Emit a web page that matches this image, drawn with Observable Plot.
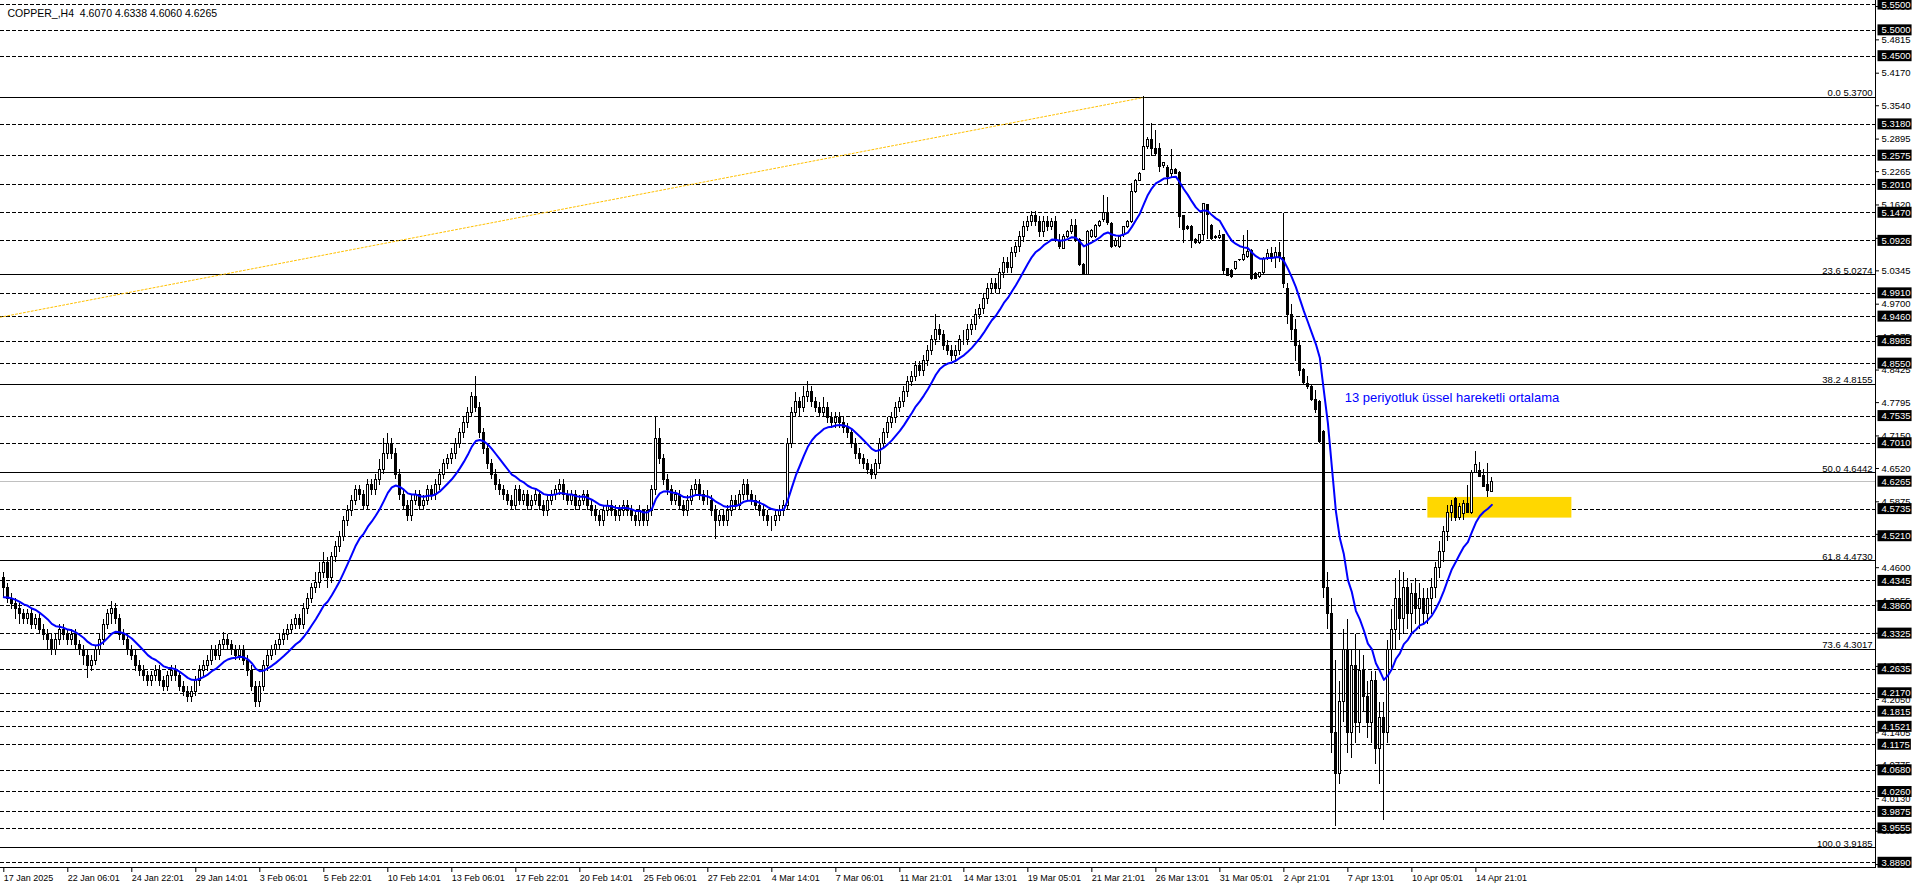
<!DOCTYPE html>
<html><head><meta charset="utf-8">
<script src="https://cdn.jsdelivr.net/npm/d3@7"></script>
<script src="https://cdn.jsdelivr.net/npm/@observablehq/plot@0.6"></script>
<style>
html,body{margin:0;padding:0;background:#fff;overflow:hidden;}
#chart svg{display:block;}
</style></head>
<body><div id="chart"></div>
<script>
// ---------- DATA (COPPER_, H4) ----------
const open = [
4.44,4.42,4.40,4.39,4.38,4.37,4.36,4.37,4.35,4.36,4.34,4.33,4.32,4.30,4.32,4.34,
4.33,4.32,4.33,4.31,4.30,4.29,4.27,4.28,4.30,4.32,4.35,4.37,4.38,4.36,4.33,4.32,
4.30,4.29,4.27,4.26,4.25,4.24,4.25,4.26,4.24,4.23,4.25,4.26,4.25,4.23,4.22,4.21,
4.22,4.24,4.26,4.27,4.28,4.30,4.29,4.31,4.32,4.31,4.30,4.29,4.30,4.28,4.26,4.23,
4.20,4.23,4.27,4.29,4.30,4.31,4.32,4.33,4.34,4.35,4.36,4.35,4.38,4.40,4.42,4.43,
4.45,4.47,4.44,4.48,4.50,4.52,4.55,4.57,4.59,4.61,4.60,4.58,4.62,4.61,4.63,4.65,
4.68,4.70,4.68,4.64,4.60,4.58,4.56,4.59,4.60,4.58,4.59,4.61,4.60,4.62,4.64,4.66,
4.67,4.68,4.70,4.72,4.74,4.76,4.79,4.77,4.72,4.69,4.66,4.64,4.62,4.61,4.60,4.59,
4.58,4.61,4.59,4.60,4.58,4.59,4.60,4.58,4.57,4.59,4.60,4.61,4.62,4.60,4.59,4.60,
4.58,4.59,4.60,4.58,4.57,4.56,4.55,4.57,4.58,4.57,4.56,4.57,4.58,4.57,4.56,4.55,
4.57,4.55,4.57,4.61,4.71,4.67,4.63,4.61,4.59,4.60,4.58,4.57,4.59,4.61,4.62,4.60,
4.59,4.59,4.57,4.55,4.56,4.55,4.57,4.59,4.58,4.60,4.62,4.60,4.59,4.58,4.57,4.56,
4.55,4.55,4.56,4.57,4.58,4.70,4.76,4.78,4.77,4.79,4.80,4.78,4.77,4.76,4.77,4.75,
4.74,4.75,4.74,4.73,4.72,4.70,4.68,4.67,4.66,4.65,4.64,4.66,4.70,4.72,4.74,4.75,
4.77,4.78,4.80,4.82,4.83,4.85,4.84,4.86,4.88,4.90,4.92,4.91,4.89,4.88,4.87,4.88,
4.90,4.90,4.92,4.93,4.95,4.96,4.98,5.00,5.01,5.00,5.03,5.05,5.04,5.07,5.08,5.10,
5.12,5.13,5.14,5.13,5.11,5.13,5.119,5.129,5.093,5.077,5.100,5.109,5.122,5.095,5.045,5.027,
5.100,5.100,5.122,5.132,5.146,5.125,5.083,5.080,5.103,5.119,5.129,5.187,5.209,5.230,5.274,5.287,
5.271,5.271,5.238,5.234,5.221,5.230,5.224,5.140,5.119,5.120,5.095,5.088,5.103,5.161,5.122,5.100,
5.098,5.103,5.038,5.035,5.038,5.055,5.055,5.061,5.073,5.029,5.022,5.030,5.058,5.067,5.06,5.07,
5.06,5.00,4.95,4.92,4.89,4.842,4.815,4.809,4.784,4.780,4.722,4.42,4.37,4.14,4.06,4.20,
4.30,4.14,4.27,4.16,4.26,4.21,4.16,4.24,4.11,4.17,4.14,4.30,4.34,4.40,4.36,4.42,
4.37,4.41,4.38,4.40,4.37,4.40,4.42,4.46,4.49,4.53,4.565,4.592,4.557,4.563,4.584,4.565,
4.644,4.648,4.637,4.620,4.607
];
const high = [
4.45,4.43,4.41,4.40,4.39,4.38,4.38,4.38,4.37,4.37,4.35,4.34,4.33,4.33,4.35,4.35,
4.34,4.34,4.34,4.32,4.31,4.30,4.29,4.31,4.33,4.36,4.38,4.395,4.39,4.37,4.34,4.33,
4.31,4.30,4.28,4.27,4.26,4.26,4.27,4.27,4.25,4.26,4.27,4.27,4.26,4.24,4.23,4.23,
4.25,4.27,4.28,4.29,4.31,4.31,4.32,4.335,4.33,4.32,4.31,4.31,4.31,4.29,4.27,4.24,
4.24,4.28,4.30,4.31,4.32,4.33,4.34,4.35,4.36,4.37,4.37,4.39,4.41,4.43,4.45,4.47,
4.49,4.48,4.49,4.51,4.53,4.56,4.58,4.60,4.62,4.62,4.61,4.63,4.63,4.64,4.67,4.71,
4.72,4.71,4.69,4.65,4.61,4.59,4.60,4.61,4.61,4.60,4.62,4.62,4.63,4.65,4.67,4.68,
4.69,4.71,4.73,4.75,4.77,4.80,4.83,4.78,4.73,4.70,4.67,4.65,4.63,4.62,4.61,4.60,
4.62,4.62,4.61,4.61,4.60,4.61,4.61,4.59,4.60,4.61,4.62,4.63,4.63,4.61,4.61,4.61,
4.60,4.61,4.61,4.59,4.58,4.57,4.58,4.59,4.59,4.58,4.58,4.59,4.59,4.58,4.57,4.58,
4.57,4.58,4.62,4.75,4.73,4.68,4.64,4.62,4.61,4.61,4.59,4.60,4.62,4.63,4.63,4.61,
4.61,4.60,4.58,4.57,4.57,4.58,4.60,4.60,4.61,4.63,4.63,4.61,4.60,4.59,4.58,4.57,
4.56,4.57,4.58,4.59,4.71,4.77,4.80,4.79,4.81,4.82,4.81,4.79,4.78,4.79,4.78,4.76,
4.76,4.76,4.75,4.74,4.73,4.71,4.69,4.68,4.67,4.66,4.67,4.71,4.73,4.75,4.76,4.78,
4.79,4.81,4.83,4.84,4.86,4.86,4.87,4.89,4.91,4.95,4.93,4.92,4.90,4.89,4.89,4.91,
4.92,4.93,4.94,4.96,4.97,4.99,5.01,5.02,5.02,5.04,5.06,5.06,5.08,5.09,5.11,5.13,
5.14,5.15,5.15,5.14,5.14,5.14,5.135,5.14,5.105,5.105,5.112,5.133,5.133,5.097,5.048,5.112,
5.115,5.125,5.132,5.180,5.177,5.128,5.097,5.103,5.121,5.131,5.203,5.211,5.224,5.372,5.293,5.319,
5.307,5.280,5.245,5.238,5.269,5.233,5.226,5.142,5.122,5.122,5.097,5.105,5.164,5.163,5.124,5.102,
5.112,5.105,5.040,5.037,5.053,5.057,5.103,5.113,5.075,5.031,5.032,5.060,5.075,5.08,5.08,5.09,
5.145,5.01,4.97,4.94,4.90,4.845,4.83,4.812,4.803,4.784,4.725,4.45,4.40,4.28,4.24,4.34,
4.36,4.30,4.33,4.30,4.29,4.24,4.26,4.26,4.20,4.20,4.32,4.38,4.44,4.455,4.45,4.44,
4.43,4.44,4.43,4.42,4.42,4.44,4.47,4.51,4.54,4.58,4.59,4.595,4.585,4.59,4.62,4.648,
4.685,4.663,4.650,4.662,4.6338
];
const low = [
4.40,4.39,4.38,4.36,4.35,4.35,4.35,4.34,4.34,4.33,4.32,4.30,4.29,4.29,4.31,4.32,
4.31,4.31,4.30,4.29,4.27,4.245,4.26,4.27,4.29,4.31,4.34,4.35,4.35,4.32,4.31,4.29,
4.28,4.26,4.25,4.24,4.23,4.23,4.24,4.23,4.22,4.22,4.24,4.24,4.22,4.21,4.20,4.20,
4.21,4.23,4.25,4.26,4.27,4.28,4.28,4.30,4.30,4.29,4.28,4.28,4.27,4.25,4.22,4.19,
4.19,4.22,4.26,4.28,4.29,4.30,4.31,4.32,4.33,4.34,4.34,4.34,4.37,4.39,4.41,4.42,
4.44,4.42,4.43,4.47,4.49,4.51,4.54,4.56,4.58,4.59,4.57,4.57,4.60,4.60,4.62,4.64,
4.67,4.67,4.63,4.59,4.57,4.55,4.55,4.58,4.57,4.57,4.58,4.59,4.59,4.61,4.63,4.65,
4.66,4.67,4.69,4.71,4.73,4.75,4.76,4.71,4.68,4.65,4.63,4.61,4.60,4.59,4.58,4.57,
4.57,4.58,4.58,4.57,4.57,4.58,4.57,4.56,4.56,4.58,4.59,4.60,4.59,4.58,4.58,4.57,
4.57,4.58,4.57,4.56,4.55,4.54,4.54,4.56,4.56,4.55,4.55,4.56,4.56,4.55,4.54,4.54,
4.54,4.54,4.56,4.60,4.66,4.62,4.60,4.58,4.58,4.57,4.56,4.56,4.58,4.60,4.59,4.58,
4.58,4.56,4.515,4.54,4.54,4.54,4.56,4.57,4.57,4.59,4.59,4.58,4.57,4.56,4.55,4.54,
4.53,4.54,4.55,4.56,4.57,4.69,4.75,4.75,4.76,4.78,4.77,4.76,4.75,4.75,4.74,4.73,
4.73,4.73,4.72,4.71,4.69,4.67,4.66,4.65,4.64,4.63,4.63,4.65,4.69,4.71,4.73,4.74,
4.76,4.77,4.79,4.81,4.82,4.83,4.83,4.85,4.87,4.89,4.90,4.88,4.87,4.86,4.86,4.87,
4.89,4.89,4.91,4.92,4.94,4.95,4.97,4.99,4.99,4.99,5.02,5.03,5.03,5.06,5.07,5.09,
5.11,5.12,5.12,5.10,5.10,5.11,5.112,5.09,5.075,5.075,5.098,5.105,5.090,5.043,5.025,5.025,
5.098,5.098,5.118,5.128,5.123,5.077,5.080,5.078,5.100,5.117,5.127,5.185,5.207,5.228,5.270,5.256,
5.255,5.225,5.232,5.202,5.216,5.220,5.116,5.087,5.112,5.077,5.086,5.086,5.093,5.096,5.094,5.096,
5.095,5.027,5.023,5.020,5.036,5.053,5.053,5.059,5.016,5.017,5.020,5.028,5.055,5.05,5.04,5.05,
5.00,4.93,4.90,4.86,4.83,4.815,4.805,4.781,4.758,4.700,4.40,4.34,4.10,3.96,4.04,4.16,
4.10,4.09,4.12,4.14,4.18,4.13,4.12,4.08,4.04,3.97,4.12,4.26,4.30,4.32,4.33,4.34,
4.33,4.35,4.34,4.35,4.35,4.37,4.40,4.44,4.47,4.51,4.55,4.55,4.551,4.551,4.565,4.563,
4.642,4.634,4.615,4.596,4.606
];
const close = [
4.42,4.40,4.39,4.38,4.37,4.36,4.37,4.35,4.36,4.34,4.33,4.32,4.30,4.32,4.34,4.33,
4.32,4.33,4.31,4.30,4.29,4.27,4.28,4.30,4.32,4.35,4.37,4.38,4.36,4.33,4.32,4.30,
4.29,4.27,4.26,4.25,4.24,4.25,4.26,4.24,4.23,4.25,4.26,4.25,4.23,4.22,4.21,4.22,
4.24,4.26,4.27,4.28,4.30,4.29,4.31,4.32,4.31,4.30,4.29,4.30,4.28,4.26,4.23,4.20,
4.23,4.27,4.29,4.30,4.31,4.32,4.33,4.34,4.35,4.36,4.35,4.38,4.40,4.42,4.43,4.45,
4.47,4.44,4.48,4.50,4.52,4.55,4.57,4.59,4.61,4.60,4.58,4.62,4.61,4.63,4.65,4.68,
4.70,4.68,4.64,4.60,4.58,4.56,4.59,4.60,4.58,4.59,4.61,4.60,4.62,4.64,4.66,4.67,
4.68,4.70,4.72,4.74,4.76,4.79,4.77,4.72,4.69,4.66,4.64,4.62,4.61,4.60,4.59,4.58,
4.61,4.59,4.60,4.58,4.59,4.60,4.58,4.57,4.59,4.60,4.61,4.62,4.60,4.59,4.60,4.58,
4.59,4.60,4.58,4.57,4.56,4.55,4.57,4.58,4.57,4.56,4.57,4.58,4.57,4.56,4.55,4.57,
4.55,4.57,4.61,4.71,4.67,4.63,4.61,4.59,4.60,4.58,4.57,4.59,4.61,4.62,4.60,4.59,
4.59,4.57,4.55,4.56,4.55,4.57,4.59,4.58,4.60,4.62,4.60,4.59,4.58,4.57,4.56,4.55,
4.55,4.56,4.57,4.58,4.70,4.76,4.78,4.77,4.79,4.80,4.78,4.77,4.76,4.77,4.75,4.74,
4.75,4.74,4.73,4.72,4.70,4.68,4.67,4.66,4.65,4.64,4.66,4.70,4.72,4.74,4.75,4.77,
4.78,4.80,4.82,4.83,4.85,4.84,4.86,4.88,4.90,4.92,4.91,4.89,4.88,4.87,4.88,4.90,
4.90,4.92,4.93,4.95,4.96,4.98,5.00,5.01,5.00,5.03,5.05,5.04,5.07,5.08,5.10,5.12,
5.13,5.14,5.13,5.11,5.13,5.12,5.129,5.093,5.080,5.100,5.109,5.122,5.093,5.045,5.027,5.109,
5.111,5.122,5.129,5.146,5.127,5.080,5.093,5.100,5.119,5.129,5.187,5.209,5.222,5.275,5.288,5.271,
5.260,5.235,5.243,5.216,5.230,5.222,5.138,5.114,5.116,5.093,5.088,5.103,5.163,5.142,5.096,5.098,
5.102,5.035,5.025,5.022,5.051,5.056,5.066,5.071,5.019,5.019,5.030,5.058,5.067,5.06,5.07,5.06,
5.01,4.95,4.92,4.89,4.84,4.817,4.81,4.784,4.766,4.703,4.42,4.37,4.14,4.06,4.20,4.30,
4.14,4.27,4.16,4.26,4.21,4.16,4.24,4.11,4.17,4.14,4.30,4.34,4.40,4.36,4.42,4.37,
4.41,4.38,4.40,4.37,4.40,4.42,4.46,4.49,4.53,4.565,4.58,4.557,4.578,4.583,4.565,4.644,
4.659,4.636,4.617,4.609,4.6265
];

const timeTickBars = [0,16,32,48,64,80,96,112,128,144,160,176,192,208,224,240,256,272,288,304,320,336,352,368];
const timeLabels = ["17 Jan 2025","22 Jan 06:01","24 Jan 22:01","29 Jan 14:01","3 Feb 06:01","5 Feb 22:01",
  "10 Feb 14:01","13 Feb 06:01","17 Feb 22:01","20 Feb 14:01","25 Feb 06:01","27 Feb 22:01","4 Mar 14:01",
  "7 Mar 06:01","11 Mar 21:01","14 Mar 13:01","19 Mar 05:01","21 Mar 21:01","26 Mar 13:01","31 Mar 05:01",
  "2 Apr 21:01","7 Apr 13:01","10 Apr 05:01","14 Apr 21:01"];

const priceTicks = [5.5460,5.4815,5.4170,5.3540,5.2895,5.2265,5.1620,5.0975,5.0345,4.9700,4.9075,4.8425,
  4.7795,4.7150,4.6520,4.5875,4.5245,4.4600,4.3955,4.3330,4.2690,4.2050,4.1405,4.0775,4.0130,3.9500,3.8855];
const dashLevels = [5.5500,5.5000,5.4500,5.3180,5.2575,5.2010,5.1470,5.0926,4.9910,4.9460,4.8985,4.8550,
  4.7535,4.7010,4.5735,4.5210,4.4345,4.3860,4.3325,4.2635,4.2170,4.1815,4.1521,4.1175,4.0680,4.0260,
  3.9875,3.9555,3.8890];
const lastPrice = 4.6265;
const fibLevels = [0.0,23.6,38.2,50.0,61.8,73.6,100.0];
const fibPrices = [5.3700,5.0274,4.8155,4.6442,4.4730,4.3017,3.9185];
const fibBaseBars = [-1,285];
const fibBasePrices = [4.9446,5.3700];
const zoneBars = [356,392];
const zonePrices = [4.556,4.596];
const headerText = "COPPER_,H4  4.6070 4.6338 4.6060 4.6265";
const noteText = "13 periyotluk üssel hareketli ortalama";
const noteBar = 335.2, notePrice = 4.7894;
const emaPeriod = 13, emaStart = 4.40;
const xDomain = [-0.825, 467.9];
const yDomain = [3.8798, 5.5577];

// ---------- BUILD ----------
const bars = close.map((c, i) => ({i, o: open[i], h: high[i], l: low[i], c}));
let e = emaStart;
const ema = close.map((c, i) => { e = e + (2 / (emaPeriod + 1)) * (c - e); return {i, v: e}; });
const labelOf = new Map(timeTickBars.map((b, k) => [b, timeLabels[k]]));
const fibs = fibPrices.map((p, k) => ({p, lvl: fibLevels[k]}));
const fibBase = fibBaseBars.map((b, k) => ({b, p: fibBasePrices[k]}));
const zone = [{x1: zoneBars[0], x2: zoneBars[1], y1: zonePrices[0], y2: zonePrices[1]}];
const boxLabels = dashLevels.concat([lastPrice]);

const chart = Plot.plot({
  width: 1916, height: 888,
  marginLeft: 0, marginRight: 41, marginTop: 0, marginBottom: 21,
  x: {type: "linear", domain: xDomain, axis: null},
  y: {type: "linear", domain: yDomain, axis: null},
  style: {fontFamily: "Arial, 'Liberation Sans', sans-serif", fontSize: "9px", background: "#fff", color: "#000", overflow: "visible"},
  marks: [
    Plot.ruleY(dashLevels, {stroke: "#000", strokeDasharray: "4,2", strokeWidth: 1, shapeRendering: "crispEdges"}),
    Plot.ruleY(fibPrices, {stroke: "#000", strokeWidth: 1, shapeRendering: "crispEdges"}),
    Plot.ruleY([lastPrice], {stroke: "#c0c0c0", strokeWidth: 1, shapeRendering: "crispEdges"}),
    Plot.rect(zone, {x1: "x1", x2: "x2", y1: "y1", y2: "y2", fill: "#ffd700"}),
    Plot.line(fibBase, {x: "b", y: "p", stroke: "#ffc000", strokeDasharray: "2,2", strokeWidth: 1, clip: true}),
    Plot.ruleX(bars, {x: "i", y1: "l", y2: "h", stroke: "#000", strokeWidth: 1, shapeRendering: "crispEdges"}),
    Plot.rect(bars, {x1: d => d.i - 0.25, x2: d => d.i + 0.25, y1: "o", y2: "c",
      fill: d => d.c >= d.o ? "#fff" : "#000", stroke: "#000", strokeWidth: 1, shapeRendering: "crispEdges"}),
    Plot.line(ema, {x: "i", y: "v", stroke: "#0000ff", strokeWidth: 2}),
    Plot.text([noteText], {x: () => noteBar, y: () => notePrice, text: d => d, textAnchor: "start",
      fill: "#0000ff", fontSize: 13}),
    Plot.text(fibs, {y: "p", text: d => d.lvl.toFixed(1) + " " + d.p.toFixed(4), frameAnchor: "right",
      textAnchor: "end", lineAnchor: "bottom", dx: -3, dy: -1, fill: "#000", fontSize: 9.5}),
    Plot.text([headerText], {frameAnchor: "top-left", text: d => d, dx: 7, dy: 13, textAnchor: "start",
      lineAnchor: "middle", fill: "#000", fontSize: 10.5}),
    Plot.frame({anchor: "right", stroke: "#000"}),
    Plot.frame({anchor: "bottom", stroke: "#000"}),
    Plot.axisX(timeTickBars, {anchor: "bottom", tickSize: 5, tickPadding: 2, textAnchor: "start",
      tickFormat: d => labelOf.get(d), fontSize: 9}),
    Plot.axisY(priceTicks, {anchor: "right", tickSize: 3, tickPadding: 3, tickFormat: d => d.toFixed(4), fontSize: 9.5}),
    Plot.text(boxLabels, {y: d => d, text: d => d.toFixed(4), frameAnchor: "right", dx: 6, textAnchor: "start",
      fill: "#fff", fontSize: 9.5, className: "pxbox", ariaDescription: "pxbox"})
  ]
});
document.getElementById("chart").appendChild(chart);

// black boxes behind the highlighted price labels (sized from the rendered text)
const svgEl = chart.tagName.toLowerCase() === "svg" ? chart : chart.querySelector("svg");
d3.select(svgEl).selectAll('g.pxbox text, g[aria-description="pxbox"] text').each(function() {
  const b = this.getBBox();
  const r = document.createElementNS("http://www.w3.org/2000/svg", "rect");
  r.setAttribute("x", b.x - 4); r.setAttribute("y", b.y);
  r.setAttribute("width", b.width + 5); r.setAttribute("height", b.height);
  r.setAttribute("fill", "#000");
  const t = this.getAttribute("transform"); if (t) r.setAttribute("transform", t);
  this.parentNode.insertBefore(r, this);
});
</script>
</body></html>
